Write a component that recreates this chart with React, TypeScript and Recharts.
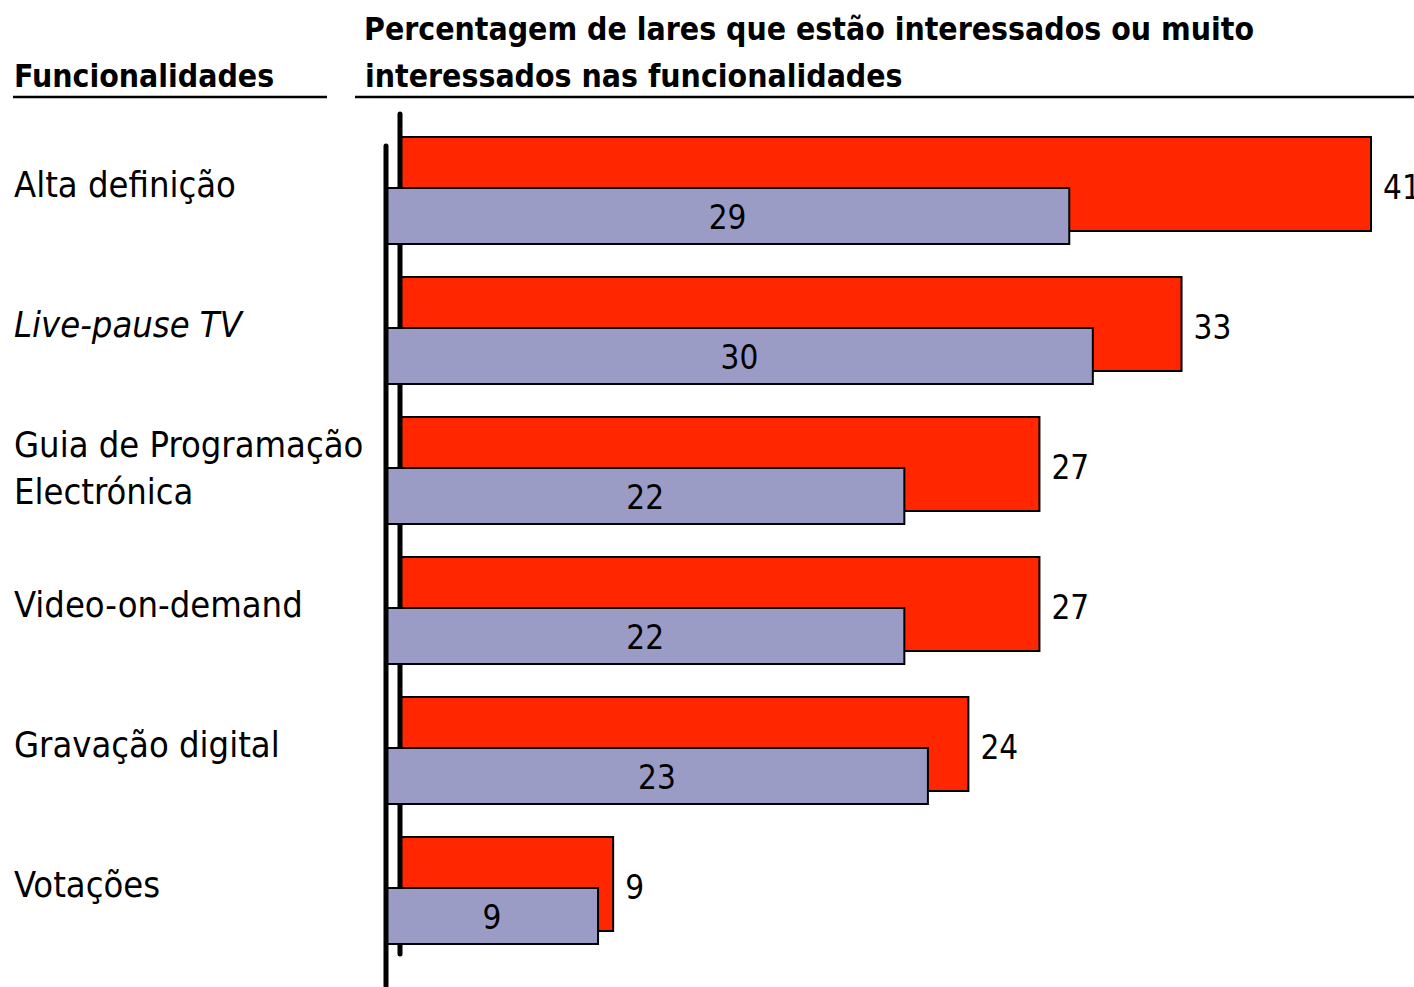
import React from "react";
import { BarChart, Bar, XAxis, YAxis, LabelList } from "recharts";

const categories = [
  "Alta definição",
  "Live-pause TV",
  "Guia de Programação\nElectrónica",
  "Video-on-demand",
  "Gravação digital",
  "Votações",
];
const redValues = [41, 33, 27, 27, 24, 9];
const blueValues = [29, 30, 22, 22, 23, 9];
const italicCategories = ["Live-pause TV"];

const headerLeft = "Funcionalidades";
const headerRightLines = [
  "Percentagem de lares que estão interessados ou muito",
  "interessados nas funcionalidades",
];

const data = categories.map((c, i) => ({ cat: c, red: redValues[i], blue: blueValues[i] }));

const FONT = '"DejaVu Sans Condensed", "DejaVu Sans", sans-serif';
const W = 1414;
const H = 987;
const RED = "#FF2600";
const BLUE = "#9B9CC6";
const DOMAIN: [number, number] = [0, 41];

const CatTick = (props: any) => {
  const { y, payload } = props;
  const lines = String(payload.value).split("\n");
  const italic = italicCategories.includes(payload.value);
  const lh = 47;
  const start = -((lines.length - 1) * lh) / 2 + (lines.length > 1 ? 3 : 0);
  return (
    <g>
      {lines.map((l, i) => (
        <text
          key={i}
          x={14}
          y={y + start + i * lh}
          dy={13}
          textAnchor="start"
          fontFamily={FONT}
          fontSize={36}
          fontStyle={italic ? "italic" : "normal"}
          fill="#000"
        >
          {l}
        </text>
      ))}
    </g>
  );
};

export default function App() {
  return (
    <div
      style={{
        position: "fixed",
        left: 0,
        top: 0,
        width: W,
        height: H,
        overflow: "hidden",
        background: "#fff",
        fontFamily: FONT,
      }}
    >
      <div style={{ position: "absolute", left: 0, top: 0 }}>
        <BarChart
          width={W}
          height={H}
          data={data}
          layout="vertical"
          margin={{ top: 114, bottom: 33, left: 0, right: 43 }}
        >
          <XAxis type="number" domain={DOMAIN} hide />
          <YAxis
            type="category"
            dataKey="cat"
            width={400}
            tick={<CatTick />}
            tickLine={false}
            axisLine={{ stroke: "#000", strokeWidth: 5, strokeLinecap: "round" }}
            interval={0}
          />
          <Bar
            dataKey="red"
            fill={RED}
            stroke="#000"
            strokeWidth={2}
            barSize={94}
            isAnimationActive={false}
          >
            <LabelList
              dataKey="red"
              position="right"
              offset={12}
              fill="#000"
              fontSize={33}
              fontFamily={FONT}
              dy={3}
            />
          </Bar>
        </BarChart>
      </div>
      <div style={{ position: "absolute", left: 0, top: 0 }}>
        <BarChart
          width={W}
          height={H}
          data={data}
          layout="vertical"
          margin={{ top: 146, bottom: 1, left: 0, right: 62 }}
        >
          <XAxis type="number" domain={DOMAIN} hide />
          <YAxis
            type="category"
            dataKey="cat"
            width={386}
            tick={false}
            tickLine={false}
            axisLine={{ stroke: "#000", strokeWidth: 5, strokeLinecap: "round" }}
            interval={0}
          />
          <Bar
            dataKey="blue"
            fill={BLUE}
            stroke="#000"
            strokeWidth={2}
            barSize={56}
            isAnimationActive={false}
          >
            <LabelList
              dataKey="blue"
              position="center"
              fill="#000"
              fontSize={33}
              fontFamily={FONT}
              dy={1}
            />
          </Bar>
        </BarChart>
      </div>
      <svg
        width={W}
        height={110}
        style={{ position: "absolute", left: 0, top: 0 }}
      >
        <text x={14} y={87} fontFamily={FONT} fontWeight="bold" fontSize={31.7} fill="#000">
          {headerLeft}
        </text>
        <line x1={13} x2={327} y1={97} y2={97} stroke="#000" strokeWidth={2.5} />
        <text x={364} y={40} fontFamily={FONT} fontWeight="bold" fontSize={31.7} fill="#000">
          {headerRightLines[0]}
        </text>
        <text x={365} y={87} fontFamily={FONT} fontWeight="bold" fontSize={31.7} fill="#000">
          {headerRightLines[1]}
        </text>
        <line x1={355} x2={1414} y1={97} y2={97} stroke="#000" strokeWidth={2.5} />
      </svg>
    </div>
  );
}
